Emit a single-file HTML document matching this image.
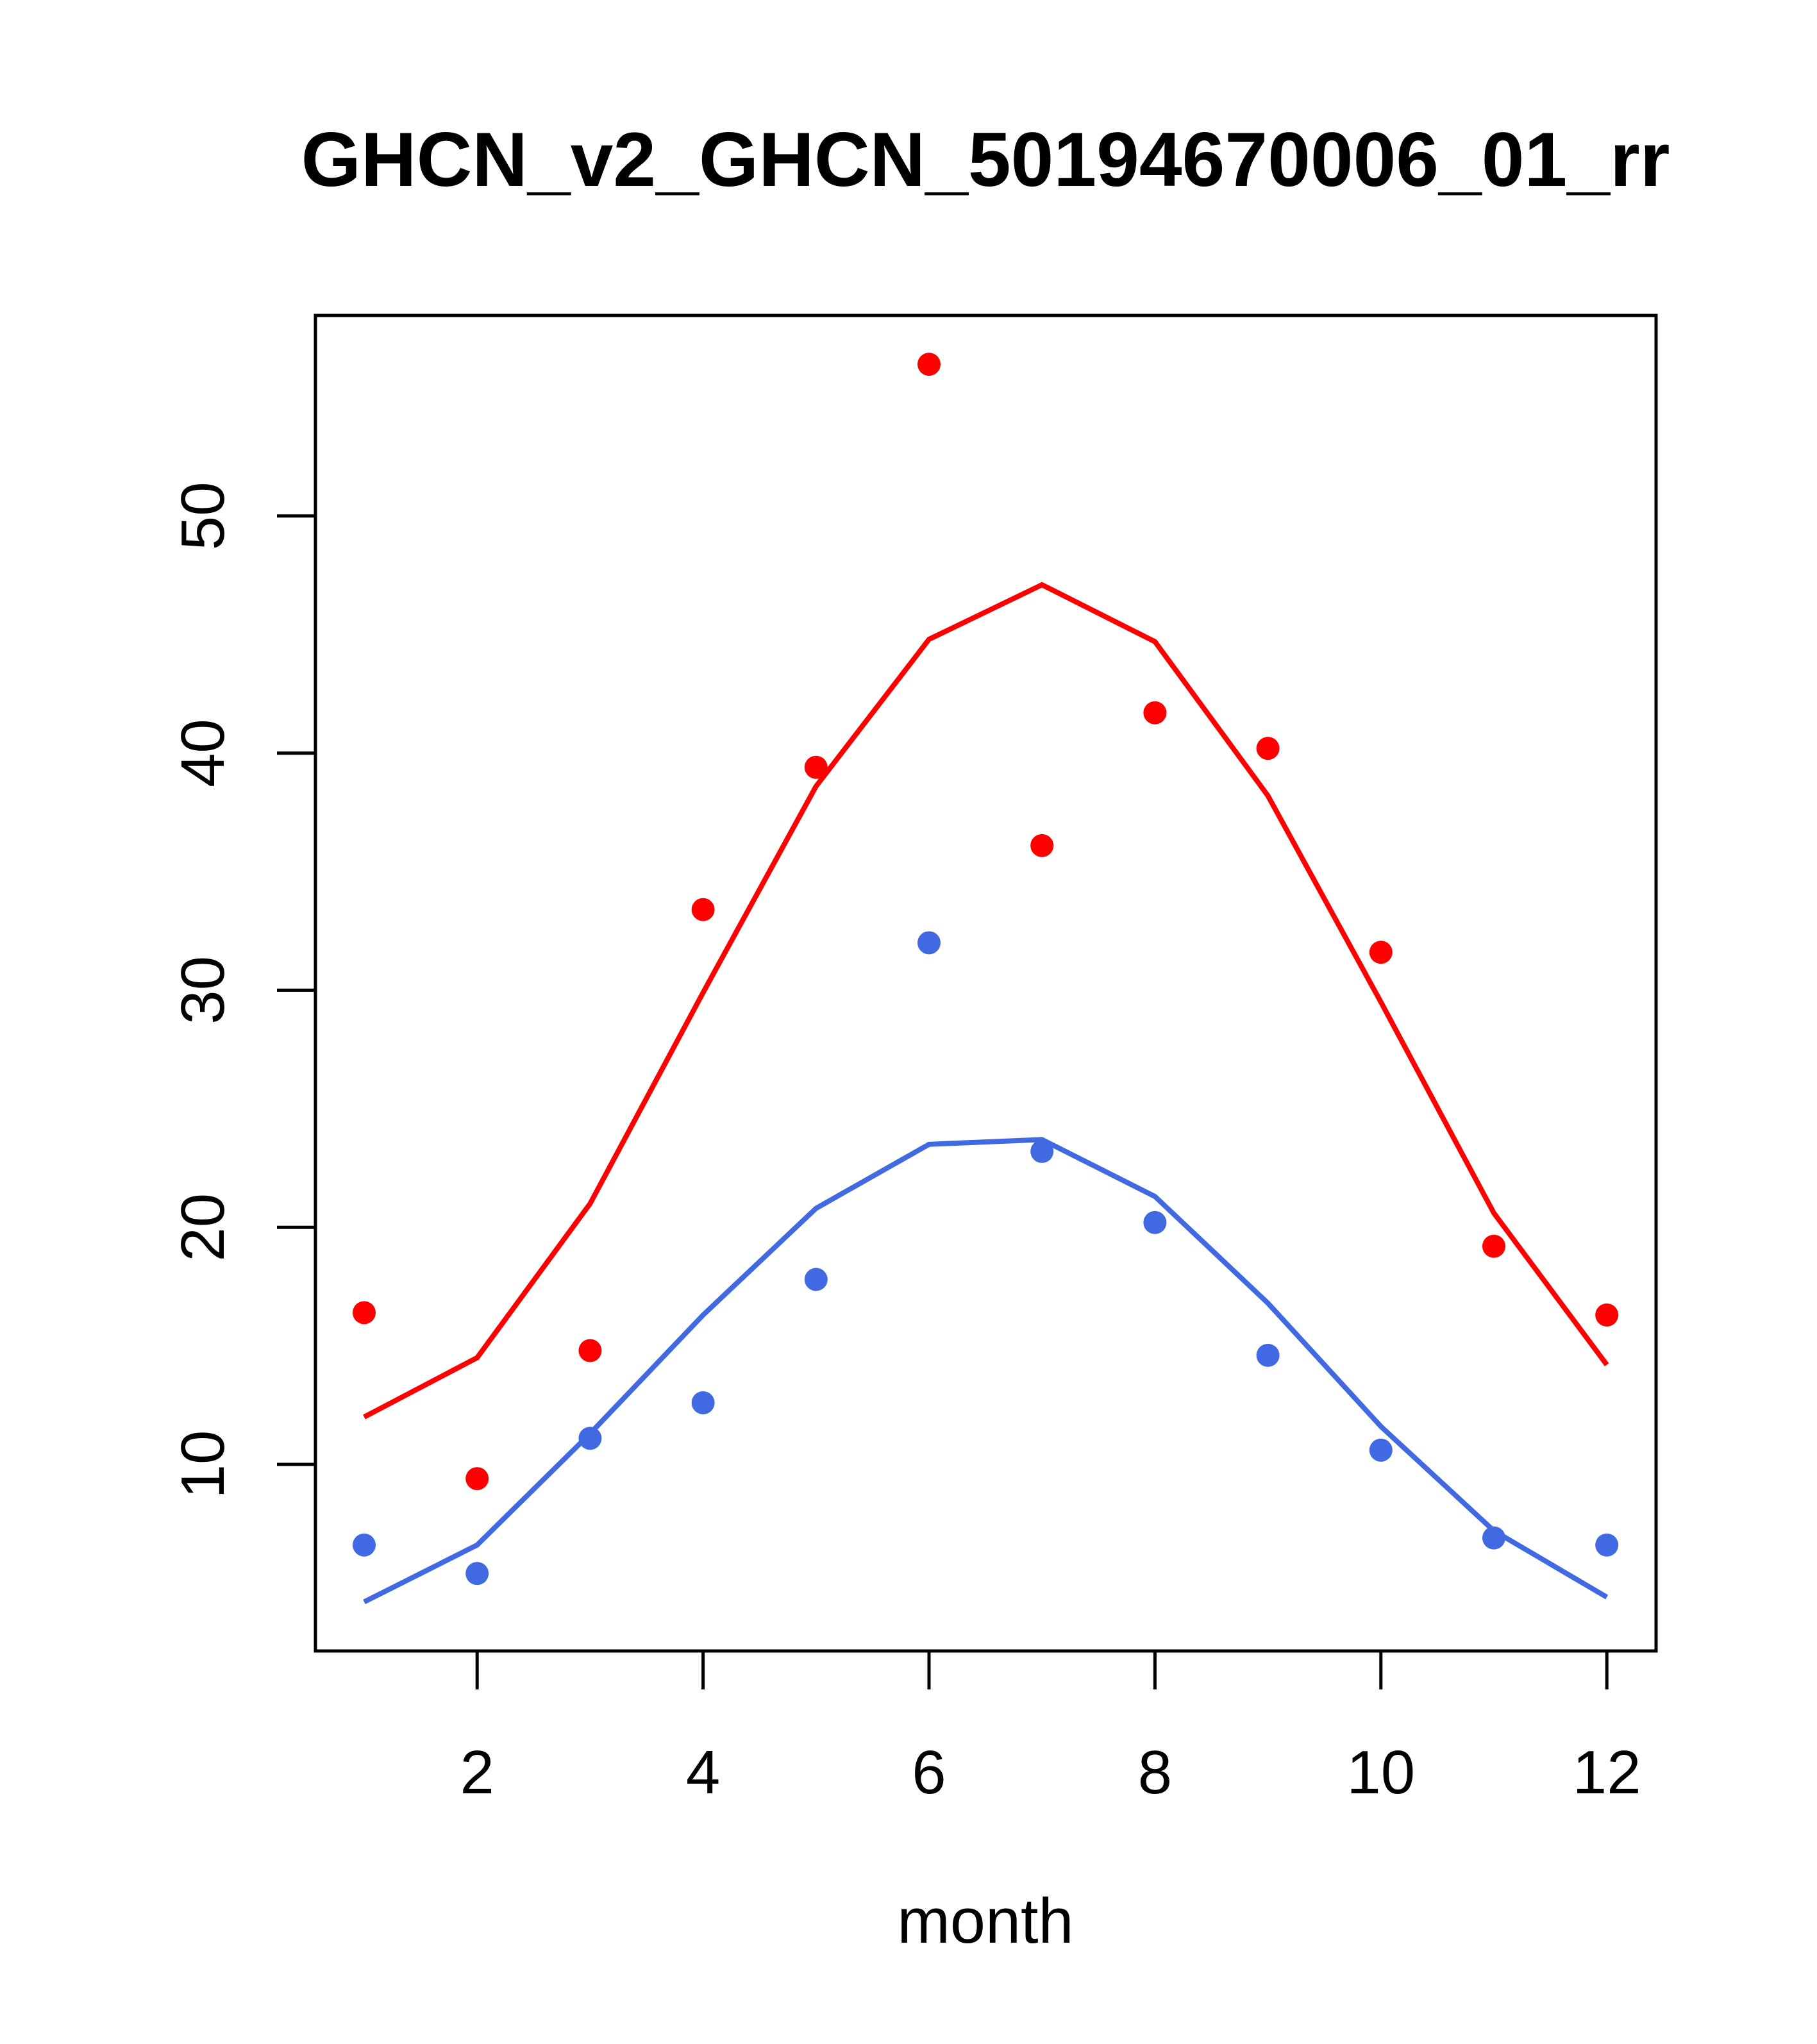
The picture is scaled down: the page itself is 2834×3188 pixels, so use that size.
<!DOCTYPE html>
<html><head><meta charset="utf-8"><style>body{margin:0;background:#fff}svg{display:block}text{font-family:"Liberation Sans",Arial,sans-serif}</style></head>
<body>
<svg id="chart" width="2834" height="3188" viewBox="0 0 2834 3188" xmlns="http://www.w3.org/2000/svg">
<rect width="2834" height="3188" fill="#fff"/>
<text x="1537" y="290" font-size="120" font-weight="bold" text-anchor="middle">GHCN_v2_GHCN_50194670006_01_rr</text>
<text x="1537" y="3030" font-size="99" text-anchor="middle">month</text>
<g id="marks"></g>
<rect x="492" y="492" width="2091" height="2083" fill="none" stroke="#000" stroke-width="5"/>
</svg>
<script>
const months=[1,2,3,4,5,6,7,8,9,10,11,12];
const redPoints=[16.4,9.4,14.8,33.4,39.4,56.4,36.1,41.7,40.2,31.6,19.2,16.3];
const redLine=[12.0,14.5,21.0,29.9,38.6,44.8,47.1,44.7,38.2,29.5,20.6,14.2];
const bluePoints=[6.6,5.4,11.1,12.6,17.8,32.0,23.2,20.2,14.6,10.6,6.9,6.6];
const blueLine=[4.2,6.6,11.3,16.3,20.8,23.5,23.7,21.3,16.8,11.6,7.2,4.4];
const xTicks=[2,4,6,8,10,12];
const yTicks=[10,20,30,40,50];
const NS="http://www.w3.org/2000/svg";
function xs(m){return 568+(m-1)*176.2;}
function ys(v){return 2284-(v-10)*36.98;}
const g=document.getElementById('marks');
function el(t,a){const e=document.createElementNS(NS,t);for(const k in a)e.setAttribute(k,a[k]);g.appendChild(e);return e;}
function line(vals,color,name){
  const p=el('polyline',{points:vals.map((v,i)=>xs(months[i])+','+ys(v)).join(' '),fill:'none',stroke:color,'stroke-width':8});
  
  
}
function pts(vals,color,name){
  vals.forEach((v,i)=>{const c=el('circle',{cx:xs(months[i]),cy:ys(v),r:18,fill:color});
  
  });
}
line(redLine,'#ff0000','red-line');
line(blueLine,'#4169e1','blue-line');
pts(redPoints,'#ff0000','red-point');
pts(bluePoints,'#4169e1','blue-point');
xTicks.forEach(t=>{
  const l=el('line',{x1:xs(t),x2:xs(t),y1:2575,y2:2635,stroke:'#000','stroke-width':5});
  
  
  const tx=el('text',{x:xs(t),y:2797,'font-size':96,'text-anchor':'middle'});tx.textContent=t;
  
  
});
yTicks.forEach(t=>{
  const l=el('line',{x1:432,x2:492,y1:ys(t),y2:ys(t),stroke:'#000','stroke-width':5});
  
  
  const tx=el('text',{x:349,y:ys(t),'font-size':96,'text-anchor':'middle',transform:'rotate(-90 349 '+ys(t)+')'});tx.textContent=t;
  
  
});
</script>
</body></html>
